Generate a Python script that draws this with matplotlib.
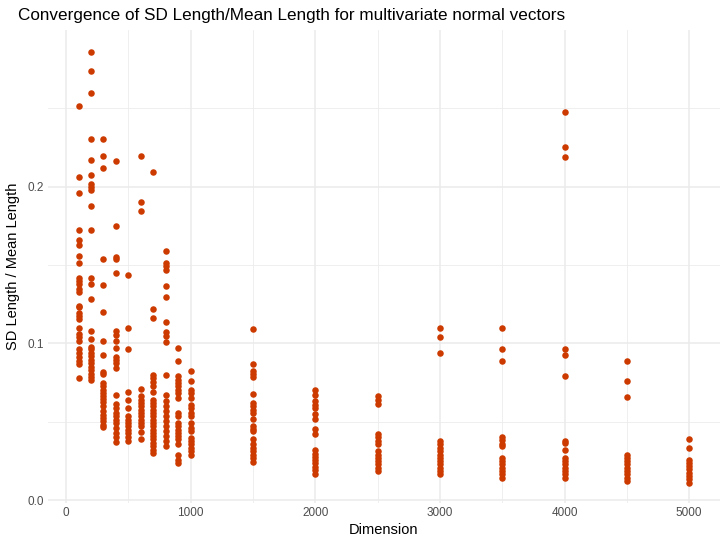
import numpy as np
import matplotlib
matplotlib.use('Agg')
from matplotlib import pyplot as plt

plt.rcParams['font.family'] = ['Liberation Sans', 'DejaVu Sans']

# SD length / mean length, one list per dimension
ratios = {
    100: [0.251, 0.206, 0.196, 0.172, 0.166, 0.1625, 0.156, 0.151, 0.142, 0.140,
          0.1376, 0.135, 0.1325, 0.1238, 0.1232, 0.1196, 0.1175, 0.1154, 0.110,
          0.106, 0.104, 0.1018, 0.0965, 0.0942, 0.0916, 0.089, 0.0868, 0.0777],
    200: [0.286, 0.2737, 0.2597, 0.2305, 0.2169, 0.2076, 0.2013, 0.1996, 0.1979,
          0.1873, 0.172, 0.142, 0.1376, 0.128, 0.108, 0.1027, 0.098, 0.0963,
          0.0942, 0.092, 0.0895, 0.0874, 0.0853, 0.0832, 0.0806, 0.0785, 0.0764],
    300: [0.2305, 0.2193, 0.2117, 0.154, 0.137, 0.120, 0.1016, 0.0927, 0.0815,
          0.0806, 0.0751, 0.0726, 0.0705, 0.0684, 0.0662, 0.0646, 0.0624, 0.0603,
          0.0567, 0.0546, 0.0525, 0.0504, 0.0483, 0.0468],
    400: [0.2165, 0.1746, 0.155, 0.1535, 0.145, 0.108, 0.1054, 0.1018, 0.0974,
          0.0916, 0.0895, 0.0874, 0.0842, 0.0669, 0.0616, 0.0589, 0.0557, 0.0536,
          0.0514, 0.0493, 0.0461, 0.043, 0.0404, 0.037],
    500: [0.1435, 0.1096, 0.0965, 0.069, 0.0637, 0.0589, 0.0536, 0.0514, 0.0493,
          0.0472, 0.045, 0.043, 0.0404, 0.0377],
    600: [0.2193, 0.1903, 0.1845, 0.0709, 0.0662, 0.0641, 0.062, 0.0599, 0.0578,
          0.0557, 0.0536, 0.0514, 0.0493, 0.0472, 0.0434, 0.0392],
    700: [0.209, 0.1217, 0.116, 0.0798, 0.0777, 0.0756, 0.0726, 0.069, 0.0641,
          0.062, 0.0599, 0.0578, 0.0557, 0.0536, 0.0514, 0.0493, 0.0472, 0.045,
          0.043, 0.0409, 0.0388, 0.0367, 0.0345, 0.0324, 0.0303],
    800: [0.1587, 0.1515, 0.1492, 0.1467, 0.1365, 0.1293, 0.1135, 0.1071, 0.1048,
          0.1012, 0.080, 0.0673, 0.063, 0.0599, 0.0567, 0.0536, 0.0504, 0.0472,
          0.044, 0.0409, 0.0377, 0.0345],
    900: [0.097, 0.089, 0.079, 0.0768, 0.0747, 0.0726, 0.0705, 0.0684, 0.0652,
          0.0557, 0.0536, 0.0493, 0.0472, 0.045, 0.043, 0.0409, 0.0388, 0.0356,
          0.0292, 0.026, 0.0239],
    1000: [0.0825, 0.0762, 0.0705, 0.0684, 0.0652, 0.061, 0.0589, 0.0557, 0.0536,
           0.0493, 0.0461, 0.044, 0.0398, 0.0377, 0.0356, 0.0335, 0.0313, 0.0292],
    1500: [0.1092, 0.0868, 0.0827, 0.0806, 0.0785, 0.0677, 0.062, 0.0599, 0.0578,
           0.0557, 0.0521, 0.0476, 0.0455, 0.044, 0.0392, 0.0356, 0.0335, 0.0313,
           0.0292, 0.0271, 0.0243],
    2000: [0.0705, 0.0669, 0.063, 0.061, 0.0589, 0.0552, 0.0521, 0.0455, 0.0423,
           0.032, 0.0298, 0.0277, 0.0256, 0.0235, 0.0214, 0.0192, 0.0171],
    2500: [0.0662, 0.0641, 0.0614, 0.0423, 0.0402, 0.0381, 0.036, 0.0313, 0.0292,
           0.0271, 0.025, 0.0229, 0.0208, 0.0186],
    3000: [0.110, 0.1039, 0.0938, 0.0377, 0.0356, 0.0335, 0.0313, 0.0292, 0.0271,
           0.025, 0.0229, 0.0208, 0.0186, 0.0171],
    3500: [0.110, 0.0967, 0.0889, 0.0404, 0.0383, 0.0362, 0.0345, 0.0271, 0.025,
           0.0229, 0.0208, 0.0186, 0.0165, 0.0144],
    4000: [0.2472, 0.225, 0.219, 0.0965, 0.0927, 0.079, 0.0381, 0.0366, 0.032,
           0.0271, 0.025, 0.0229, 0.0208, 0.0186, 0.0165, 0.0144],
    4500: [0.0885, 0.0762, 0.0658, 0.0292, 0.0271, 0.025, 0.0229, 0.0208, 0.0186,
           0.0165, 0.0144, 0.0123],
    5000: [0.0389, 0.0335, 0.026, 0.0239, 0.0218, 0.0197, 0.0176, 0.0154, 0.0133,
           0.0112],
}

x_ticks = [0, 1000, 2000, 3000, 4000, 5000]
y_ticks = [0.0, 0.1, 0.2]
y_tick_labels = ['0.0', '0.1', '0.2']

dims = []
vals = []
for d, v in ratios.items():
    dims += [d] * len(v)
    vals += v
dims = np.array(dims)
vals = np.array(vals)

fig = plt.figure(figsize=(7.27, 5.45), dpi=100)
ax = fig.add_axes([0.066, 0.077, 0.924, 0.868])

ax.scatter(dims, vals, s=22, color='#CC3A00', linewidths=0, zorder=3)

# ggplot style expansion (5%)
xr = dims.max() - dims.min()
ax.set_xlim(dims.min() - 0.05 * xr, dims.max() + 0.05 * xr)
ax.set_ylim(-0.0017, vals.max() + 0.05 * (vals.max() - vals.min()))

ax.set_xticks(x_ticks)
ax.set_yticks(y_ticks)
ax.set_yticklabels(y_tick_labels)
ax.set_xticks([500, 1500, 2500, 3500, 4500], minor=True)
ax.set_yticks([0.05, 0.15, 0.25], minor=True)
ax.grid(True, which='major', color='#EBEBEB', linewidth=1.1)
ax.grid(True, which='minor', color='#EBEBEB', linewidth=0.55)
ax.set_axisbelow(True)
for s in ax.spines.values():
    s.set_visible(False)
ax.tick_params(which='both', length=0, labelsize=8.5, labelcolor='#4D4D4D', pad=3)

ax.set_xlabel('Dimension', fontsize=10.5, labelpad=3)
ax.set_ylabel('SD Length / Mean Length', fontsize=10.5, labelpad=5)
ax.set_title('Convergence of SD Length/Mean Length for multivariate normal vectors',
             fontsize=12.3, loc='left', x=-0.045, pad=7)

fig.savefig('out.png', dpi=100)
